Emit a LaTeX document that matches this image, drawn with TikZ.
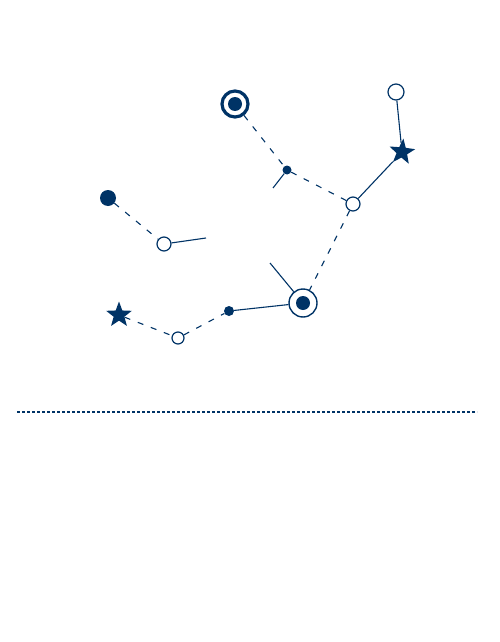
\documentclass[tikz,border=0pt]{standalone}
\usetikzlibrary{shapes.geometric}
\definecolor{navy}{RGB}{0,51,102}
\tikzset{
  open/.style={circle, draw=navy, fill=white, line width=1.2pt, inner sep=0pt},
  dot/.style={circle, fill=navy, inner sep=0pt},
  target/.style={circle, draw=navy, fill=white, inner sep=0pt, minimum size=26pt,
    path picture={\fill[navy] (path picture bounding box.center) circle (7pt);}},
  bright/.style={star, star points=5, star point ratio=2.4, fill=navy, inner sep=0pt, minimum size=27pt},
  link/.style={draw=navy, line width=1.1pt},
  faint/.style={link, dash pattern=on 6pt off 8pt}
}
\begin{document}
\begin{tikzpicture}[x=1pt, y=-1pt]
\useasboundingbox (0,0) rectangle (500,642);
\node[target, line width=3.2pt] (t1) at (235,104) {};
\node[target, line width=1.4pt, minimum size=28pt] (t2) at (303,303) {};
\node[dot, minimum size=9pt] (d1) at (287,170) {};
\node[dot, minimum size=16pt] (d2) at (108,198) {};
\node[dot, minimum size=10pt] (d3) at (229,311) {};
\node[open, minimum size=14pt] (o1) at (353,204) {};
\node[open, minimum size=16pt] (o2) at (396,92) {};
\node[open, minimum size=14pt] (o3) at (164,244) {};
\node[open, minimum size=12pt] (o4) at (178,338) {};
\node[bright, rotate=-6] (s1) at (402,152) {};
\node[bright] (s2) at (119,315) {};
\coordinate (e1) at (273,188);
\coordinate (e2) at (206,238);
\coordinate (e3) at (270,263);

\foreach \p/\q in {t1/d1, d1/o1, o1/t2, d2/o3, s2/o4, o4/d3}
{\draw[faint] (\p) -- (\q);}
\foreach \p/\q in {o2/s1, s1/o1, d1/e1, o3/e2, t2/e3, d3/t2}
{\draw[link] (\p) -- (\q);}

\draw[navy, line width=1.3pt, dash pattern=on 3pt off 2pt] (17,412) -- (477,412);
\end{tikzpicture}
\end{document}
